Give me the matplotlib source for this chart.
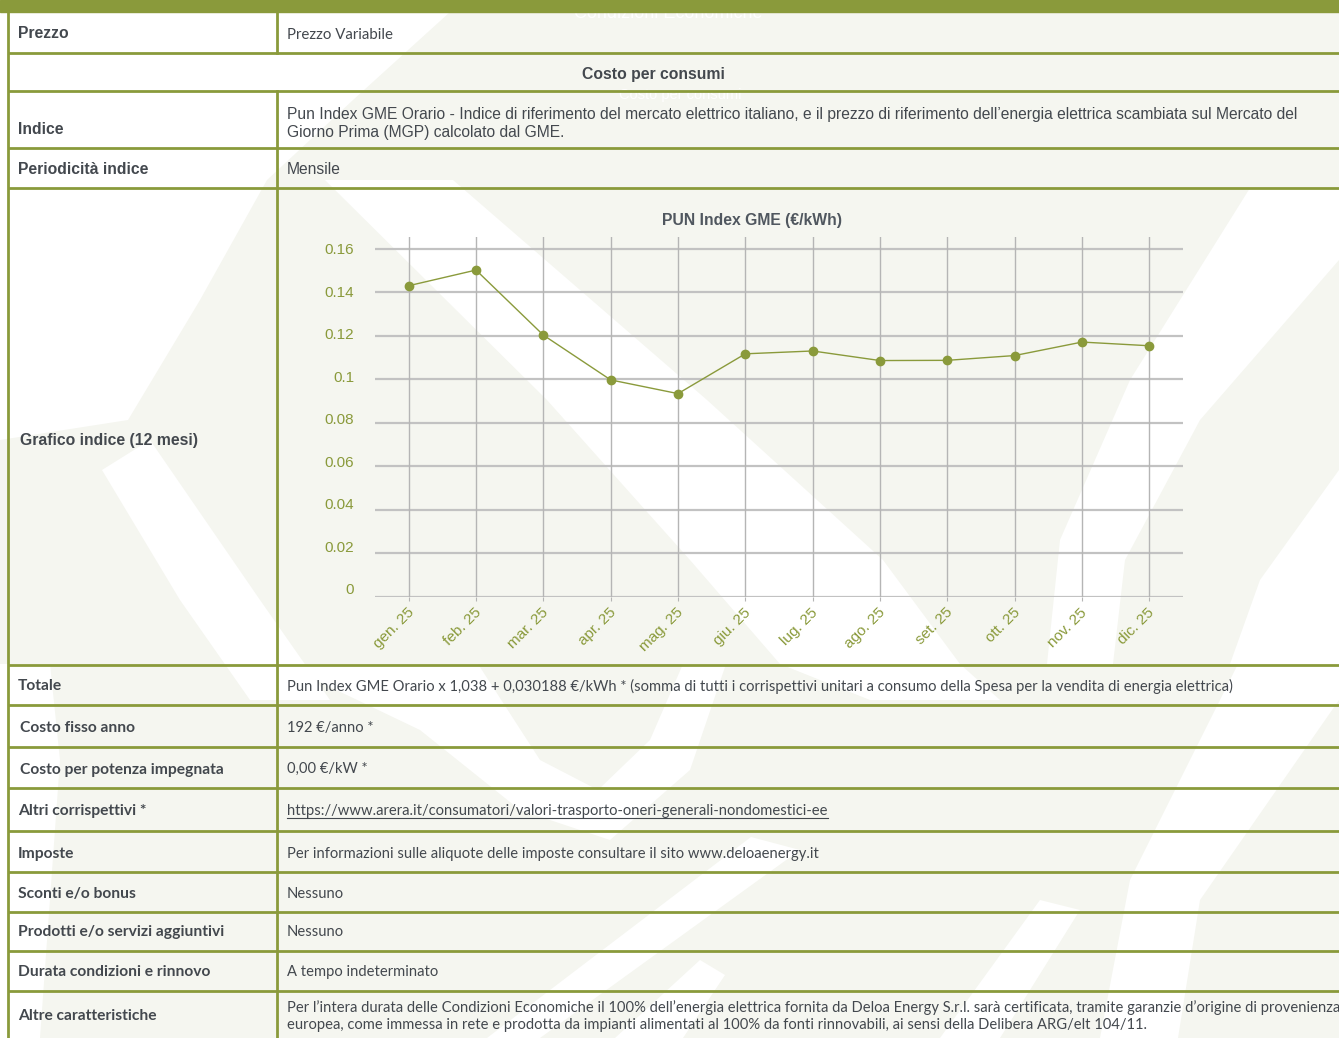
import matplotlib
matplotlib.use("Agg")
import matplotlib.pyplot as plt
from matplotlib.patches import Rectangle, Polygon
import matplotlib.transforms as mtransforms

# ---------------- data ----------------
months = ["gen. 25", "feb. 25", "mar. 25", "apr. 25", "mag. 25", "giu. 25",
          "lug. 25", "ago. 25", "set. 25", "ott. 25", "nov. 25", "dic. 25"]
pun_values = [0.1431, 0.1503, 0.1204, 0.0998, 0.0935, 0.1118,
              0.1131, 0.1087, 0.1088, 0.1110, 0.1172, 0.1155]
y_ticks = [0, 0.02, 0.04, 0.06, 0.08, 0.10, 0.12, 0.14, 0.16]
y_tick_labels = ["0", "0.02", "0.04", "0.06", "0.08", "0.1", "0.12", "0.14", "0.16"]
chart_title = "PUN Index GME (€/kWh)"

table_labels = ["Prezzo", "Indice", "Periodicità indice", "Grafico indice (12 mesi)",
                "Totale", "Costo fisso anno", "Costo per potenza impegnata",
                "Altri corrispettivi *", "Imposte", "Sconti e/o bonus",
                "Prodotti e/o servizi aggiuntivi", "Durata condizioni e rinnovo",
                "Altre caratteristiche"]
table_values = [
    "Prezzo Variabile",
    "Pun Index GME Orario - Indice di riferimento del mercato elettrico italiano, e il prezzo di riferimento dell’energia elettrica scambiata sul Mercato del\nGiorno Prima (MGP) calcolato dal GME.",
    "Mensile",
    "",
    "Pun Index GME Orario x 1,038 + 0,030188 €/kWh * (somma di tutti i corrispettivi unitari a consumo della Spesa per la vendita di energia elettrica)",
    "192 €/anno *",
    "0,00 €/kW *",
    "https://www.arera.it/consumatori/valori-trasporto-oneri-generali-nondomestici-ee",
    "Per informazioni sulle aliquote delle imposte consultare il sito www.deloaenergy.it",
    "Nessuno",
    "Nessuno",
    "A tempo indeterminato",
    "Per l’intera durata delle Condizioni Economiche il 100% dell’energia elettrica fornita da Deloa Energy S.r.l. sarà certificata, tramite garanzie d’origine di provenienza\neuropea, come immessa in rete e prodotta da impianti alimentati al 100% da fonti rinnovabili, ai sensi della Delibera ARG/elt 104/11.",
]
section_header = "Costo per consumi"
page_header = "Condizioni Economiche"

# ---------------- style ----------------
W, H = 1339, 1038
GREEN = "#8a9a3b"
CREAM = "#f5f6f0"
TXT = "#43484e"
TITLE_C = "#50575f"
GRID_C = "#c2c2c2"

fig = plt.figure(figsize=(W / 100, H / 100), dpi=100)
bg = fig.add_axes([0, 0, 1, 1])
bg.set_xlim(0, W)
bg.set_ylim(H, 0)
bg.axis("off")
renderer = fig.canvas.get_renderer()

# background + decorative white shapes
bg.add_patch(Rectangle((0, 0), W, H, color=CREAM, zorder=0))
white_shapes = [
    [(0, 12), (450, 12), (353, 100), (267, 180), (200, 300), (128, 420), (0, 440)],
    [(325, 180), (453, 180), (707, 400), (883, 560), (960, 664), (1000, 700), (870, 700), (780, 664), (690, 560), (547, 400)],
    [(102, 470), (150, 440), (260, 600), (330, 700), (250, 700), (180, 600)],
    [(1250, 188), (1339, 188), (1339, 260), (1200, 420), (1125, 560), (1113, 664), (1047, 664), (1060, 540), (1130, 380)],
    [(1339, 470), (1339, 664), (1230, 664), (1260, 580)],
    [(282, 664), (478, 664), (540, 760), (598, 790), (650, 740), (683, 664), (726, 664), (690, 770), (610, 840), (520, 810), (420, 730)],
    [(751, 837), (800, 850), (540, 1038), (487, 1038)],
    [(615, 1038), (700, 960), (725, 975), (683, 1038)],
    [(940, 1038), (1040, 900), (1080, 910), (1000, 1038)],
    [(1238, 664), (1339, 664), (1339, 700), (1200, 900), (1178, 1038), (1100, 1038), (1130, 880)],
    [(0, 664), (50, 664), (60, 760), (40, 1038), (0, 1038)],
]
for pts in white_shapes:
    bg.add_patch(Polygon(pts, closed=True, color="white", zorder=0.5, lw=0))

# ghost header texts
bg.text(668, 14, page_header, ha="center", va="center", color="white",
        fontsize=13, family="Liberation Sans", zorder=1)
bg.text(680, 95, section_header, ha="center", va="center", color="white",
        fontsize=10.5, family="Liberation Sans", zorder=1)

# top bar
bg.add_patch(Rectangle((0, 0), W, 12, color=GREEN, zorder=2))

# grid lines of the table
row_lines = [53, 91, 148, 188, 665, 705, 747, 788, 831, 872, 912, 951, 991]
for y in row_lines:
    bg.plot([8, W], [y, y], color=GREEN, lw=2.0, zorder=3, solid_capstyle="butt")
bg.plot([8, 8], [12, H], color=GREEN, lw=2.0, zorder=3)
bg.plot([277, 277], [12, 53], color=GREEN, lw=2.0, zorder=3)
bg.plot([277, 277], [91, H], color=GREEN, lw=2.0, zorder=3)


def fit_size(s, family, weight, target):
    t = bg.text(0, 0, s, fontsize=10, family=family, weight=weight)
    w = t.get_window_extent(renderer).width
    t.remove()
    return 10 * target / w


F_TOP = ["Liberation Sans", "DejaVu Sans"]
F_LOW = ["Lato", "DejaVu Sans"]
s_top_lab = fit_size("Periodicità indice", F_TOP, "bold", 131)
s_top_val = fit_size("Mensile", F_TOP, "normal", 54)
s_low_lab = fit_size("Prodotti e/o servizi aggiuntivi", F_LOW, "bold", 206)
s_low_val = fit_size(table_values[-1].split("\n")[0], F_LOW, "normal", 1049)

DY = 2
label_y = [32, 127, 168, 439, 684, 726, 768, 809, 852, 892, 930, 970, 1014]
label_x = [18, 18, 18, 20, 18, 20, 20, 18, 18, 18, 18, 18, 18]
value_y = [33, 122, 168, None, 684, 726, 767, 809, 852, 892, 930, 970, 1014]

for i, lab in enumerate(table_labels):
    top = i < 4
    bg.text(label_x[i], label_y[i] + DY, lab, ha="left", va="center", color=TXT,
            family=F_TOP if top else F_LOW, weight="bold",
            fontsize=s_top_lab if top else s_low_lab, zorder=4)
    val = table_values[i]
    if not val:
        continue
    if i == 0:
        fam, fs = F_LOW, s_low_val * 1.02
    elif top:
        fam, fs = F_TOP, s_top_val
    else:
        fam, fs = F_LOW, s_low_val
    t = bg.text(287, value_y[i] + DY, val, ha="left", va="center", color=TXT,
                family=fam, fontsize=fs, zorder=4, linespacing=1.25)
    if val.startswith("https"):
        bb = t.get_window_extent(renderer)
        inv = bg.transData.inverted()
        (x0, _), (x1, _) = inv.transform([(bb.x0, 0), (bb.x1, 0)])
        bg.plot([x0, x1], [value_y[i] + DY + 7, value_y[i] + DY + 7], color=TXT, lw=0.8, zorder=4)

bg.text(653, 73 + DY, section_header, ha="center", va="center", color=TXT,
        family=F_TOP, weight="bold", fontsize=s_top_lab, zorder=4)

# ---------------- chart ----------------
ax = fig.add_axes([375 / W, 1 - 597 / H, 808 / W, 360 / H])
ax.patch.set_alpha(0)
for sp in ax.spines.values():
    sp.set_visible(False)
x = list(range(len(months)))
ax.set_xlim(-0.5, 11.5)
ax.set_ylim(0, 0.1655)
for yt in y_ticks:
    ax.axhline(yt, color=GRID_C, lw=1.6, zorder=1)
for xi in x:
    ax.axvline(xi, color="#b5b5b5", lw=1.0, zorder=1)
ax.plot(x, pun_values, color=GREEN, lw=1.0, marker="o", markersize=6,
        markerfacecolor=GREEN, markeredgecolor=GREEN, zorder=3)

ax.set_yticks(y_ticks)
ax.set_yticklabels(y_tick_labels, family=F_TOP, fontsize=11, color=GREEN)
ax.tick_params(axis="y", length=0, pad=15)
n_y = len(y_ticks)
for k, lab in enumerate(ax.get_yticklabels()):
    shift = mtransforms.ScaledTranslation(0, (n_y - 1 - k) * 1.0 / 100, fig.dpi_scale_trans)
    lab.set_transform(lab.get_transform() + shift)

ax.set_xticks(x)
ax.set_xticklabels(months, family=F_TOP, fontsize=11, color=GREEN,
                   rotation=45, ha="right", va="top", rotation_mode="anchor")
ax.tick_params(axis="x", length=3, color="#b5b5b5", pad=3)
offset = mtransforms.ScaledTranslation(-2 / 100, 0, fig.dpi_scale_trans)
for lab in ax.get_xticklabels():
    lab.set_transform(lab.get_transform() + offset)

fig.text(752 / W, 1 - 221 / H, chart_title, ha="center", va="center",
         family=F_TOP, weight="bold", fontsize=s_top_lab, color=TITLE_C)

fig.savefig("out.png", dpi=100)
